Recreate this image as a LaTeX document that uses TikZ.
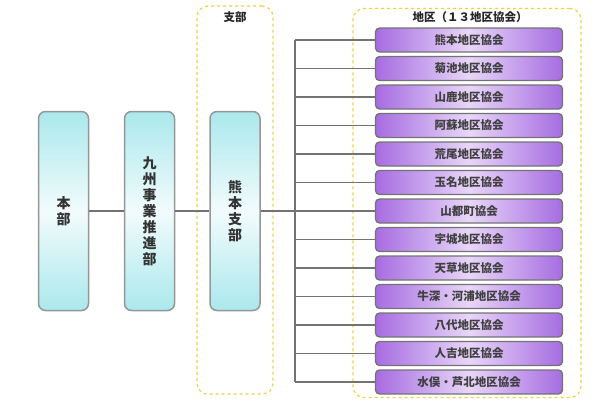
\documentclass[tikz,border=0pt]{standalone}
\usepackage{fontspec}
\setmainfont{Noto Sans CJK JP}
\definecolor{cyanbox}{RGB}{170,232,236}
\definecolor{purplebox}{RGB}{166,108,226}
\definecolor{purplelight}{RGB}{232,214,248}
\definecolor{linegray}{RGB}{115,115,115}
\definecolor{zoneyellow}{RGB}{240,208,70}
\begin{document}
\begin{tikzpicture}[x=1pt,y=-1pt,
  honbu/.style={draw={rgb,255:red,150;green,150;blue,150}, line width=1.5pt, rounded corners=7pt,
    top color=cyanbox, bottom color=cyanbox, middle color=cyanbox!15,
    minimum width=50pt, minimum height=199pt, inner sep=0pt, align=center,
    font=\fontsize{14}{16}\selectfont\bfseries, text=black!80},
  chiku/.style={draw=linegray, line width=1.3pt, rounded corners=4pt,
    left color=purplebox, right color=purplebox, middle color=purplelight,
    minimum width=187pt, minimum height=24pt, inner sep=0pt,
    font=\fontsize{11.5}{13}\selectfont\bfseries, text=black!75},
  zone/.style={draw=zoneyellow, dashed, line width=1.2pt, rounded corners=11pt, inner sep=0pt},
  conn/.style={draw=linegray, line width=1.4pt},
  title/.style={font=\fontsize{11.5}{13}\selectfont\bfseries, text=black!85}]
  \useasboundingbox (0,0) rectangle (600,400);

  % dashed zones
  \node[zone, minimum width=76pt, minimum height=388pt] (shibuzone) at (235,200) {};
  \node[zone, minimum width=228pt, minimum height=389pt] (chikuzone) at (467,203) {};
  \node[title] (shibulabel) at (235,17) {支部};
  \node[title] (chikulabel) at (470,17) {地区（１３地区協会）};

  % main column
  \node[honbu] (honbu) at (63.5,211) {本\\部};
  \node[honbu] (kyushu) at (149.5,211) {九\\州\\事\\業\\推\\進\\部};
  \node[honbu] (shibu) at (235,211) {熊\\本\\支\\部};
  \draw[conn] (honbu) -- (kyushu);
  \draw[conn] (kyushu) -- (shibu);

  % district associations
  \coordinate (trunk) at (295,211);
  \foreach \name [count=\i] in {熊本地区協会,菊池地区協会,山鹿地区協会,阿蘇地区協会,
      荒尾地区協会,玉名地区協会,山都町協会,宇城地区協会,天草地区協会,
      牛深・河浦地区協会,八代地区協会,人吉地区協会,水俣・芦北地区協会}
  {
    \node[chiku] (d\i) at (469,{40+(\i-1)*28.5}) {\name};
    \draw[conn] (d\i.west -| trunk) -- (d\i.west);
  }
  \draw[conn] (d1.west -| trunk) -- (d13.west -| trunk);
  \draw[conn] (shibu) -- (trunk);
\end{tikzpicture}
\end{document}
